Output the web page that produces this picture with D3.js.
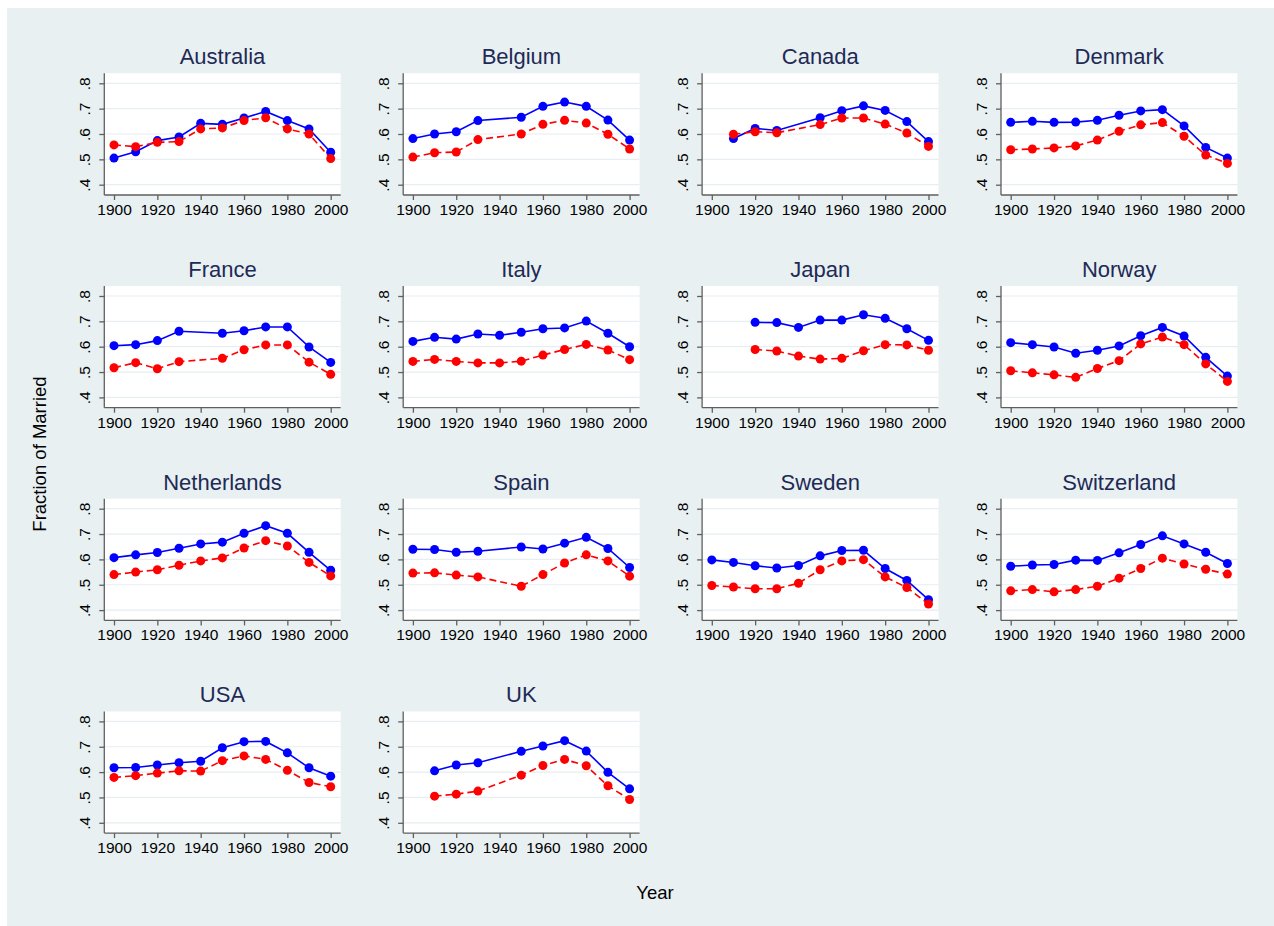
<!DOCTYPE html>
<html>
<head>
<meta charset="utf-8">
<script src="https://cdn.jsdelivr.net/npm/d3@7"></script>
<style>
  html, body { margin: 0; padding: 0; background: #ffffff; }
  svg { display: block; }
  text { font-family: "Liberation Sans", Arial, Helvetica, sans-serif; }
</style>
</head>
<body>
<svg id="chart" width="1274" height="926"></svg>
<script>
// Decades shown on every panel's x axis
const years = [1900, 1910, 1920, 1930, 1940, 1950, 1960, 1970, 1980, 1990, 2000];
const yTicks = [0.4, 0.5, 0.6, 0.7, 0.8];
const xTicks = [1900, 1920, 1940, 1960, 1980, 2000];

const countries = ["Australia", "Belgium", "Canada", "Denmark",
                   "France", "Italy", "Japan", "Norway",
                   "Netherlands", "Spain", "Sweden", "Switzerland",
                   "USA", "UK"];

// Fraction of married, one value per decade (null = no census that decade)
const australiaSolid   = [0.505, 0.530, 0.574, 0.588, 0.642, 0.638, 0.663, 0.689, 0.653, 0.620, 0.528];
const australiaDashed  = [0.557, 0.550, 0.567, 0.570, 0.620, 0.624, 0.653, 0.664, 0.620, 0.600, 0.503];
const belgiumSolid     = [0.582, 0.600, 0.609, 0.653, null, 0.666, 0.709, 0.726, 0.709, 0.655, 0.576];
const belgiumDashed    = [0.509, 0.526, 0.529, 0.578, null, 0.600, 0.638, 0.654, 0.643, 0.599, 0.541];
const canadaSolid      = [null, 0.582, 0.622, 0.614, null, 0.664, 0.692, 0.711, 0.693, 0.649, 0.570];
const canadaDashed     = [null, 0.599, 0.609, 0.605, null, 0.637, 0.663, 0.663, 0.639, 0.604, 0.551];
const denmarkSolid     = [0.646, 0.650, 0.646, 0.647, 0.654, 0.674, 0.691, 0.696, 0.632, 0.547, 0.505];
const denmarkDashed    = [0.538, 0.541, 0.545, 0.553, 0.576, 0.611, 0.636, 0.645, 0.591, 0.517, 0.484];
const franceSolid      = [0.604, 0.608, 0.624, 0.661, null, 0.653, 0.663, 0.678, 0.678, 0.599, 0.538];
const franceDashed     = [0.517, 0.537, 0.513, 0.541, null, 0.554, 0.588, 0.607, 0.607, 0.539, 0.491];
const italySolid       = [0.621, 0.637, 0.630, 0.650, 0.645, 0.657, 0.671, 0.674, 0.701, 0.653, 0.600];
const italyDashed      = [0.542, 0.550, 0.542, 0.536, 0.536, 0.543, 0.567, 0.589, 0.609, 0.587, 0.549];
const japanSolid       = [null, null, 0.696, 0.695, 0.676, 0.705, 0.705, 0.726, 0.712, 0.671, 0.625];
const japanDashed      = [null, null, 0.589, 0.583, 0.563, 0.551, 0.554, 0.584, 0.608, 0.607, 0.586];
const norwaySolid      = [0.616, 0.608, 0.599, 0.574, 0.586, 0.603, 0.643, 0.676, 0.642, 0.558, 0.484];
const norwayDashed     = [0.505, 0.497, 0.489, 0.479, 0.514, 0.545, 0.611, 0.638, 0.608, 0.532, 0.463];
const netherlandsSolid = [0.607, 0.618, 0.627, 0.644, 0.661, 0.668, 0.703, 0.733, 0.703, 0.628, 0.557];
const netherlandsDashed= [0.540, 0.550, 0.559, 0.577, 0.594, 0.606, 0.645, 0.674, 0.653, 0.588, 0.535];
const spainSolid       = [0.640, 0.639, 0.628, 0.632, null, 0.649, 0.641, 0.664, 0.687, 0.643, 0.568];
const spainDashed      = [0.546, 0.547, 0.538, 0.531, null, 0.494, 0.540, 0.586, 0.618, 0.594, 0.534];
const swedenSolid      = [0.598, 0.588, 0.575, 0.566, 0.576, 0.614, 0.635, 0.636, 0.564, 0.517, 0.441];
const swedenDashed     = [0.497, 0.491, 0.484, 0.484, 0.506, 0.559, 0.594, 0.599, 0.531, 0.489, 0.424];
const switzerlandSolid = [0.573, 0.578, 0.580, 0.597, 0.596, 0.626, 0.659, 0.693, 0.661, 0.628, 0.584];
const switzerlandDashed= [0.476, 0.481, 0.472, 0.481, 0.494, 0.526, 0.564, 0.605, 0.582, 0.561, 0.542];
const usaSolid         = [0.617, 0.618, 0.628, 0.637, 0.643, 0.696, 0.720, 0.721, 0.676, 0.617, 0.584];
const usaDashed        = [0.579, 0.586, 0.596, 0.605, 0.604, 0.645, 0.664, 0.650, 0.607, 0.559, 0.542];
const ukSolid          = [null, 0.605, 0.628, 0.637, null, 0.682, 0.703, 0.724, 0.683, 0.599, 0.534];
const ukDashed         = [null, 0.505, 0.513, 0.525, null, 0.588, 0.626, 0.650, 0.625, 0.546, 0.492];

const solidSeries  = [australiaSolid, belgiumSolid, canadaSolid, denmarkSolid,
                      franceSolid, italySolid, japanSolid, norwaySolid,
                      netherlandsSolid, spainSolid, swedenSolid, switzerlandSolid,
                      usaSolid, ukSolid];
const dashedSeries = [australiaDashed, belgiumDashed, canadaDashed, denmarkDashed,
                      franceDashed, italyDashed, japanDashed, norwayDashed,
                      netherlandsDashed, spainDashed, swedenDashed, switzerlandDashed,
                      usaDashed, ukDashed];

// ---- layout ----
const svg = d3.select("#chart");
const W = 1274, H = 926;
const colLeft0 = 104.3, colStep = 298.9, plotW = 236.4;
const rowTop0 = 73.3, rowStep = 212.7, plotH = 121.7;

const bgColor = "#e8f0f2";
const gridColor = "#e6eef1";
const axisColor = "#5f5f5f";
const titleColor = "#1e2a55";
const blue = "#0000ff", red = "#ff0000";

svg.append("rect").attr("x", 7).attr("y", 8).attr("width", W - 7).attr("height", H - 8)
  .attr("fill", bgColor);

const x = d3.scaleLinear().domain([1900, 2000]).range([9.7, 226.4]);
const y = d3.scaleLinear().domain([0.4, 0.8]).range([111.4, 10]);

const fmtY = d => d3.format(".1f")(d).replace(/^0/, "");

countries.forEach((name, i) => {
  const col = i % 4, row = Math.floor(i / 4);
  const g = svg.append("g")
    .attr("transform", `translate(${colLeft0 + col * colStep},${rowTop0 + row * rowStep})`);

  g.append("rect").attr("width", plotW).attr("height", plotH).attr("fill", "#ffffff");

  // horizontal grid
  g.selectAll("line.grid").data(yTicks).join("line")
    .attr("class", "grid")
    .attr("x1", 0).attr("x2", plotW)
    .attr("y1", d => y(d)).attr("y2", d => y(d))
    .attr("stroke", gridColor).attr("stroke-width", 1.2);

  // y axis
  const yAxis = g.append("g")
    .call(d3.axisLeft(y).tickValues(yTicks).tickFormat(fmtY).tickSize(5).tickSizeOuter(0));
  yAxis.select(".domain").attr("d", `M0,0V${plotH}`);
  yAxis.selectAll(".domain, .tick line").attr("stroke", axisColor).attr("stroke-width", 1.3);
  yAxis.selectAll(".tick text")
    .attr("x", null).attr("dy", null)
    .attr("transform", "translate(-14,0) rotate(-90)")
    .attr("text-anchor", "middle")
    .attr("fill", "#000").attr("font-size", 15.5);

  // x axis
  const xAxis = g.append("g").attr("transform", `translate(0,${plotH})`)
    .call(d3.axisBottom(x).tickValues(xTicks).tickFormat(d3.format("d")).tickSize(5).tickSizeOuter(0));
  xAxis.select(".domain").attr("d", `M0,0H${plotW}`);
  xAxis.selectAll(".domain, .tick line").attr("stroke", axisColor).attr("stroke-width", 1.3);
  xAxis.selectAll(".tick text").attr("y", 9).attr("fill", "#000").attr("font-size", 15.5);

  // panel title
  g.append("text")
    .attr("x", plotW / 2).attr("y", -9)
    .attr("text-anchor", "middle")
    .attr("font-size", 22)
    .attr("fill", titleColor)
    .text(name);

  const drawSeries = (vals, color, dash) => {
    const pts = years.map((yr, k) => ({ yr, v: vals[k] })).filter(p => p.v != null);
    const line = d3.line().x(p => x(p.yr)).y(p => y(p.v));
    g.append("path").datum(pts)
      .attr("d", line)
      .attr("fill", "none")
      .attr("stroke", color)
      .attr("stroke-width", 1.6)
      .attr("stroke-dasharray", dash);
    g.append("g").selectAll("circle").data(pts).join("circle")
      .attr("cx", p => x(p.yr)).attr("cy", p => y(p.v))
      .attr("r", 4.5).attr("fill", color);
  };
  drawSeries(solidSeries[i], blue, null);
  drawSeries(dashedSeries[i], red, "7,4");
});

// axis titles
svg.append("text")
  .attr("transform", "translate(46,454) rotate(-90)")
  .attr("text-anchor", "middle")
  .attr("font-size", 18.5)
  .attr("fill", "#000")
  .text("Fraction of Married");

svg.append("text")
  .attr("x", 655).attr("y", 899)
  .attr("text-anchor", "middle")
  .attr("font-size", 18.5)
  .attr("fill", "#000")
  .text("Year");
</script>
</body>
</html>
